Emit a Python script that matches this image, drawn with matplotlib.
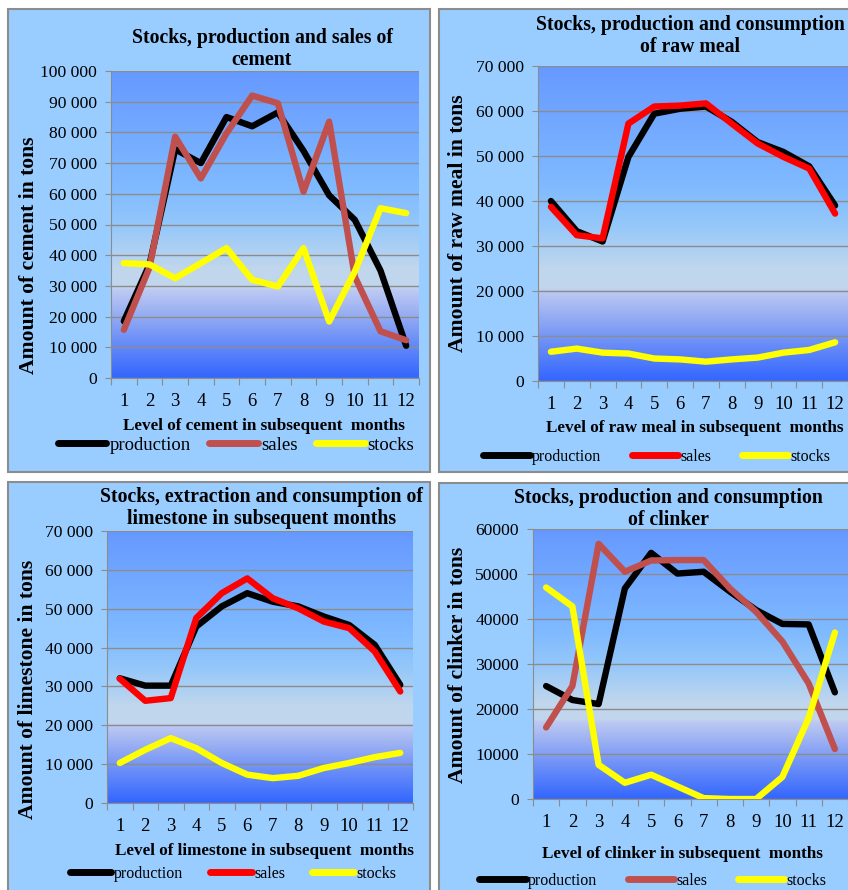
import numpy as np
import matplotlib
matplotlib.use("Agg")
import matplotlib.pyplot as plt
from matplotlib.colors import LinearSegmentedColormap
from matplotlib.patches import Rectangle
from matplotlib.ticker import FuncFormatter, FixedLocator

plt.rcParams['font.family'] = ['Liberation Serif', 'DejaVu Serif']

months = [1, 2, 3, 4, 5, 6, 7, 8, 9, 10, 11, 12]
series_names = ["production", "sales", "stocks"]

cement_production = [18500, 37000, 74500, 70000, 85000, 82000, 86500, 74000, 59500, 51500, 35000, 10500]
cement_sales = [15700, 36000, 78600, 65000, 79700, 92000, 89500, 60700, 83500, 33000, 15200, 12300]
cement_stocks = [37400, 37000, 32500, 37400, 42300, 32000, 29800, 42300, 18400, 34700, 55300, 53700]

meal_production = [40000, 33300, 31000, 49800, 59400, 60500, 61000, 57600, 53100, 50900, 47700, 39000]
meal_sales = [38700, 32400, 31700, 57200, 61000, 61200, 61700, 57200, 52800, 49800, 47200, 37200]
meal_stocks = [6500, 7200, 6300, 6100, 5000, 4800, 4300, 4800, 5200, 6300, 6900, 8600]

lime_production = [32100, 30200, 30200, 45400, 50600, 54000, 51800, 50600, 48000, 45800, 40700, 30400]
lime_sales = [32000, 26300, 27000, 47600, 54000, 57800, 52700, 50100, 46700, 45000, 39000, 28700]
lime_stocks = [10300, 13700, 16700, 14100, 10300, 7300, 6400, 7000, 9000, 10300, 11800, 12900]

clinker_production = [25100, 22000, 21100, 46800, 54700, 50100, 50500, 46100, 42000, 38900, 38800, 23700]
clinker_sales = [15900, 25100, 56700, 50500, 53000, 53100, 53100, 46800, 41600, 35000, 25700, 11100]
clinker_stocks = [47000, 42800, 7600, 3600, 5400, 2800, 200, 0, 0, 4900, 18000, 37000]

W, H = 848, 890
fig = plt.figure(figsize=(W / 100, H / 100), dpi=100)
fig.patch.set_facecolor("white")

# panel frames (pixels: x0, y0, x1, y1 from top-left)
frames = [(8, 9, 430, 472), (439, 9, 858, 472), (8, 482, 430, 898), (439, 483, 858, 898)]
for x0, y0, x1, y1 in frames:
    fig.patches.append(Rectangle((x0 / W, 1 - y1 / H), (x1 - x0) / W, (y1 - y0) / H,
                                 transform=fig.transFigure, facecolor="#99CCFF",
                                 edgecolor="#8C8C8C", linewidth=1.5, zorder=-5))

grad = LinearSegmentedColormap.from_list("plotarea", [
    (0.0, (0.20, 0.40, 1.00)),
    (0.12, (0.42, 0.56, 0.97)),
    (0.22, (0.62, 0.70, 0.95)),
    (0.285, (0.74, 0.79, 0.95)),
    (0.295, (0.76, 0.84, 0.93)),
    (0.36, (0.75, 0.84, 0.93)),
    (0.50, (0.58, 0.78, 0.98)),
    (0.62, (0.50, 0.73, 1.00)),
    (1.0, (0.40, 0.60, 1.00)),
])

space_fmt = FuncFormatter(lambda v, p: "0" if v == 0 else f"{int(v):,}".replace(",", " "))
plain_fmt = FuncFormatter(lambda v, p: f"{int(v)}")

panels = [
    dict(rect=(111, 71, 419, 378), data=(cement_production, cement_sales, cement_stocks),
         colors=("black", "#C0504D", "#FFFF00"), ymax=100000, step=10000, fmt=space_fmt,
         title="Stocks, production and sales of\ncement", title_xy=(262, 49),
         ylabel="Amount of cement in tons", ylabel_xy=(29, 255),
         xlabel="Level of cement in subsequent  months", xlabel_xy=(264, 426),
         leg_xy=(236, 445), leg_fs=13.5, leg_hl=2.6, leg_cs=1.0),
    dict(rect=(538, 66, 848, 381), data=(meal_production, meal_sales, meal_stocks),
         colors=("black", "#FF0000", "#FFFF00"), ymax=70000, step=10000, fmt=space_fmt,
         title="Stocks, production and consumption\nof raw meal", title_xy=(690, 36),
         ylabel="Amount of raw meal in tons", ylabel_xy=(458, 223),
         xlabel="Level of raw meal in subsequent  months", xlabel_xy=(695, 428),
         leg_xy=(657, 457), leg_fs=11.5, leg_hl=2.9, leg_cs=1.9),
    dict(rect=(107, 531, 413, 803), data=(lime_production, lime_sales, lime_stocks),
         colors=("black", "#FF0000", "#FFFF00"), ymax=70000, step=10000, fmt=space_fmt,
         title="Stocks, extraction and consumption of\nlimestone in subsequent months", title_xy=(262, 508),
         ylabel="Amount of limestone in tons", ylabel_xy=(28, 689),
         xlabel="Level of limestone in subsequent  months", xlabel_xy=(264, 851),
         leg_xy=(233, 874), leg_fs=11.5, leg_hl=2.6, leg_cs=1.7),
    dict(rect=(533, 529, 848, 799), data=(clinker_production, clinker_sales, clinker_stocks),
         colors=("black", "#C0504D", "#FFFF00"), ymax=60000, step=10000, fmt=plain_fmt,
         title="Stocks, production and consumption\nof clinker", title_xy=(668, 509),
         ylabel="Amount of clinker in tons", ylabel_xy=(458, 665),
         xlabel="Level of clinker in subsequent  months", xlabel_xy=(682, 854),
         leg_xy=(653, 881), leg_fs=11.5, leg_hl=2.9, leg_cs=1.9),
]

for p in panels:
    x0, y0, x1, y1 = p["rect"]
    ax = fig.add_axes([x0 / W, 1 - y1 / H, (x1 - x0) / W, (y1 - y0) / H])
    ax.set_zorder(2)
    ax.set_facecolor("none")
    ax.imshow(np.linspace(0, 1, 256).reshape(-1, 1), cmap=grad, origin="lower",
              extent=[0, 1, 0, 1], transform=ax.transAxes, aspect="auto", zorder=0)
    for vals, name, c in zip(p["data"], series_names, p["colors"]):
        ax.plot(months, vals, color=c, lw=4.6, label=name, zorder=3,
                solid_joinstyle="round", solid_capstyle="round")
    ax.set_xlim(0.5, 12.5)
    ax.set_ylim(0, p["ymax"])
    ax.set_yticks(np.arange(0, p["ymax"] + 1, p["step"]))
    ax.yaxis.set_major_formatter(p["fmt"])
    ax.xaxis.set_major_locator(FixedLocator(np.arange(0.5, 13, 1)))
    ax.xaxis.set_minor_locator(FixedLocator(months))
    ax.set_xticklabels([])
    ax.set_xticklabels([str(m) for m in months], minor=True)
    ax.tick_params(axis="x", which="major", length=5, color="#8C8C8C", direction="out")
    ax.tick_params(axis="x", which="minor", length=0, pad=11, labelsize=13.5)
    ax.tick_params(axis="y", length=4, color="#8C8C8C", pad=6, labelsize=12.6)
    ax.grid(axis="y", color="#8C8C8C", lw=1.0, zorder=1)
    ax.set_axisbelow(True)
    for s in ("top", "right"):
        ax.spines[s].set_visible(False)
    for s in ("left", "bottom"):
        ax.spines[s].set_color("#8C8C8C")
    fig.text(p["title_xy"][0] / W, 1 - p["title_xy"][1] / H, p["title"], ha="center", va="center",
             fontsize=14.2, fontweight="bold", linespacing=1.1)
    fig.text(p["ylabel_xy"][0] / W, 1 - p["ylabel_xy"][1] / H, p["ylabel"], ha="center", va="center",
             rotation=90, fontsize=15.6, fontweight="bold")
    fig.text(p["xlabel_xy"][0] / W, 1 - p["xlabel_xy"][1] / H, p["xlabel"], ha="center", va="center",
             fontsize=12.3, fontweight="bold")
    leg = ax.legend(loc="center", bbox_to_anchor=(p["leg_xy"][0] / W, 1 - p["leg_xy"][1] / H),
                    bbox_transform=fig.transFigure, ncol=3, frameon=False, fontsize=p["leg_fs"],
                    handlelength=p["leg_hl"], handletextpad=0.15, columnspacing=p["leg_cs"],
                    borderpad=0, borderaxespad=0)
    for ln in leg.get_lines():
        ln.set_linewidth(5)

fig.savefig("out.png", dpi=100)
